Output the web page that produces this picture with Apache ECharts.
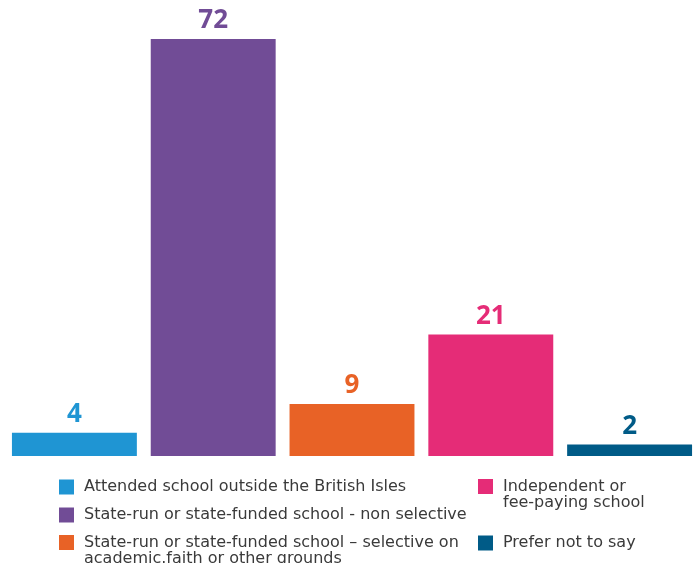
<!DOCTYPE html>
<html>
<head>
<meta charset="utf-8">
<script src="https://cdn.jsdelivr.net/npm/echarts@6/dist/echarts.min.js"></script>
<style>
  html, body { margin: 0; padding: 0; background: #fff; }
  #main { width: 700px; height: 563px; }
</style>
</head>
<body>
<div id="main"></div>
<script>
// data
const categories = [
  'Attended school outside the British Isles',
  'State-run or state-funded school - non selective',
  'State-run or state-funded school \u2013 selective on\nacademic.faith or other grounds',
  'Independent or\nfee-paying school',
  'Prefer not to say'
]
const values = [4, 72, 9, 21, 2]
const colors = ['#1f95d3', '#714c96', '#e86226', '#e52c77', '#005b87']

// legend placement: [left, icon top, two-line]
const legendPos = [
  [59, 479, false],
  [59, 507, false],
  [59, 535, true],
  [478, 479, true],
  [478, 535, false]
]
const LINE_H = 16

const chart = echarts.init(document.getElementById('main'))

// one series per category so each gets its own legend entry
const series = categories.map((name, i) => ({
  name: name,
  type: 'bar',
  stack: 'all',
  barCategoryGap: '10%',
  itemStyle: { color: colors[i] },
  label: {
    show: true,
    position: 'top',
    distance: 5,
    color: colors[i],
    fontFamily: 'Open Sans',
    fontWeight: 'bold',
    fontSize: 26
  },
  data: values.map((v, j) => (j === i ? v : '-'))
}))

// two-line items get a blank first line so line 1 sits level with the icon
const legends = categories.map((name, i) => {
  const twoLine = legendPos[i][2]
  return {
    data: [name],
    left: legendPos[i][0],
    top: twoLine ? legendPos[i][1] - (1.5 * LINE_H - 7.5) : legendPos[i][1],
    padding: 0,
    icon: 'rect',
    itemWidth: 15,
    itemHeight: 15,
    selectedMode: false,
    formatter: twoLine ? (n) => ' \n' + n : '{name}',
    textStyle: {
      fontFamily: 'DejaVu Sans',
      fontSize: 16,
      lineHeight: LINE_H,
      color: '#3a3a3a',
      padding: [0, 0, 0, 5]
    }
  }
})

chart.setOption({
  animation: false,
  grid: { left: 5, right: 1, top: 39, bottom: 107 },
  xAxis: {
    type: 'category',
    data: categories,
    show: false
  },
  yAxis: {
    type: 'value',
    min: 0,
    max: 72,
    show: false
  },
  legend: legends,
  series: series
})
</script>
</body>
</html>
